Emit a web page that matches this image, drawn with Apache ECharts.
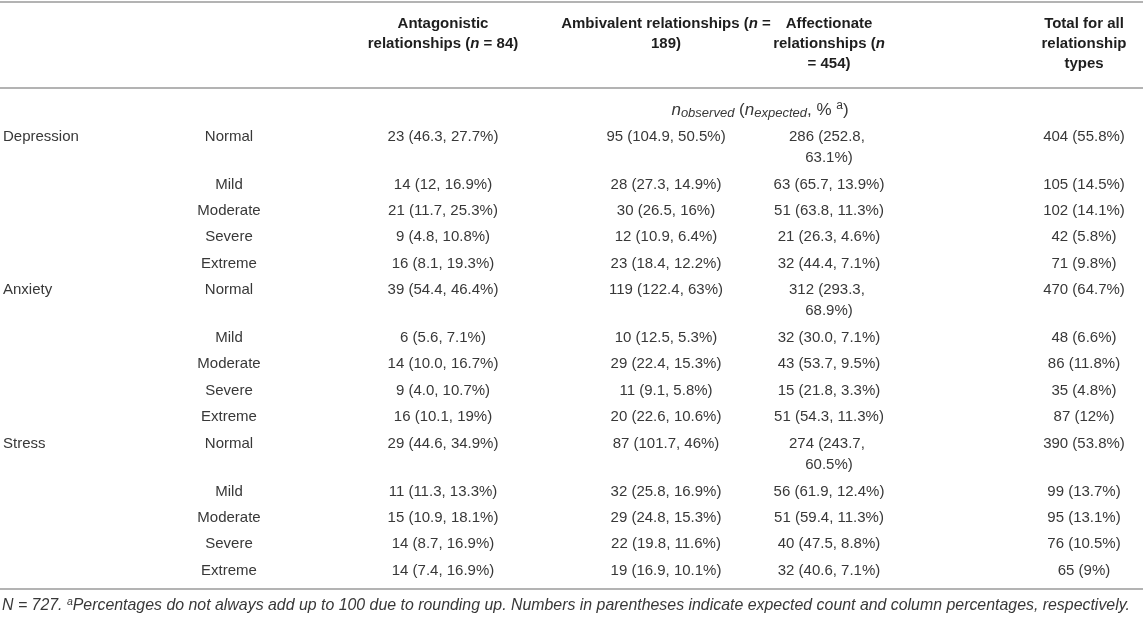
<!DOCTYPE html>
<html lang="en">
<head>
    <meta charset="UTF-8">
    <title>Relationship types by DASS level</title>
    <script src="https://cdn.jsdelivr.net/npm/echarts@6/dist/echarts.min.js"></script>
    <style>
        html, body { margin: 0; padding: 0; background: #fff; }
        #table-chart { width: 1143px; height: 618px; }
    </style>
</head>
<body>
<div id="table-chart"></div>

<script>
    // table content
    var groups = ['Depression', 'Anxiety', 'Stress'];
    var levels = ['Normal', 'Mild', 'Moderate', 'Severe', 'Extreme'];
    var headers = [
        'Antagonistic\nrelationships ({i|n} = 84)',
        'Ambivalent relationships ({i|n} =\n189)',
        'Affectionate\nrelationships ({i|n}\n= 454)',
        'Total for all\nrelationship\ntypes'
    ];
    var antagonistic = [
        '23 (46.3, 27.7%)', '14 (12, 16.9%)', '21 (11.7, 25.3%)', '9 (4.8, 10.8%)', '16 (8.1, 19.3%)',
        '39 (54.4, 46.4%)', '6 (5.6, 7.1%)', '14 (10.0, 16.7%)', '9 (4.0, 10.7%)', '16 (10.1, 19%)',
        '29 (44.6, 34.9%)', '11 (11.3, 13.3%)', '15 (10.9, 18.1%)', '14 (8.7, 16.9%)', '14 (7.4, 16.9%)'
    ];
    var ambivalent = [
        '95 (104.9, 50.5%)', '28 (27.3, 14.9%)', '30 (26.5, 16%)', '12 (10.9, 6.4%)', '23 (18.4, 12.2%)',
        '119 (122.4, 63%)', '10 (12.5, 5.3%)', '29 (22.4, 15.3%)', '11 (9.1, 5.8%)', '20 (22.6, 10.6%)',
        '87 (101.7, 46%)', '32 (25.8, 16.9%)', '29 (24.8, 15.3%)', '22 (19.8, 11.6%)', '19 (16.9, 10.1%)'
    ];
    var affectionate = [
        '286 (252.8, 63.1%)', '63 (65.7, 13.9%)', '51 (63.8, 11.3%)', '21 (26.3, 4.6%)', '32 (44.4, 7.1%)',
        '312 (293.3, 68.9%)', '32 (30.0, 7.1%)', '43 (53.7, 9.5%)', '15 (21.8, 3.3%)', '51 (54.3, 11.3%)',
        '274 (243.7, 60.5%)', '56 (61.9, 12.4%)', '51 (59.4, 11.3%)', '40 (47.5, 8.8%)', '32 (40.6, 7.1%)'
    ];
    var totals = [
        '404 (55.8%)', '105 (14.5%)', '102 (14.1%)', '42 (5.8%)', '71 (9.8%)',
        '470 (64.7%)', '48 (6.6%)', '86 (11.8%)', '35 (4.8%)', '87 (12%)',
        '390 (53.8%)', '99 (13.7%)', '95 (13.1%)', '76 (10.5%)', '65 (9%)'
    ];
    var unitLabel = '{i|n}{sub|observed} ({i|n}{sub|expected}, % {sup|a})';
    var footnote = 'N = 727. {sup|a}Percentages do not always add up to 100 due to rounding up. ' +
        'Numbers in parentheses indicate expected count and column percentages, respectively.';

    // layout
    var W = 1143, H = 618;
    var FONT = '"Liberation Sans", Arial, Helvetica, sans-serif';
    var bodySize = 15, lineH = 21;
    var colX = [3, 229, 443, 666, 829, 1084];
    var colAlign = ['left', 'center', 'center', 'center', 'center', 'center'];
    var colWrap = [200, 200, 200, 220, 120, 160];
    var firstRowY = 136.5, rowPitch = 26.4, extraLine = 21.5;

    var nRows = levels.length * groups.length;
    var groupCol = [], levelCol = [];
    for (var r = 0; r < nRows; r++) {
        groupCol.push(r % levels.length === 0 ? groups[r / levels.length] : '');
        levelCol.push(levels[r % levels.length]);
    }
    var columns = [groupCol, levelCol, antagonistic, ambivalent, affectionate, totals];

    // how many lines a row needs (a cell wraps when it is wider than its column)
    var ctx = document.createElement('canvas').getContext('2d');
    ctx.font = bodySize + 'px ' + FONT;
    function rowLines(r) {
        var n = 1;
        columns.forEach(function (col, c) {
            if (ctx.measureText(col[r]).width > colWrap[c]) n = 2;
        });
        return n;
    }
    var rowY = [];
    var y = firstRowY;
    for (var r = 0; r < nRows; r++) {
        rowY.push(y);
        y += rowPitch + (rowLines(r) - 1) * extraLine;
    }

    var cells = [];
    for (var r = 0; r < nRows; r++) {
        for (var c = 0; c < columns.length; c++) {
            if (columns[c][r]) cells.push([c, r]);
        }
    }

    function renderCell(params, api) {
        var c = api.value(0), r = api.value(1);
        var pt = api.coord([colX[c], rowY[r]]);
        return {
            type: 'text',
            x: pt[0],
            y: pt[1] - lineH / 2,
            style: {
                text: columns[c][r],
                fill: '#383838',
                fontSize: bodySize,
                fontFamily: FONT,
                align: colAlign[c],
                verticalAlign: 'top',
                width: colWrap[c],
                overflow: 'break',
                lineHeight: lineH
            }
        };
    }

    var graphics = [];
    [2, 88, 589].forEach(function (ly) {
        graphics.push({
            type: 'line',
            shape: {x1: 0, y1: ly, x2: W, y2: ly},
            style: {stroke: '#b3b3b3', lineWidth: 2}
        });
    });
    headers.forEach(function (h, i) {
        graphics.push({
            type: 'text',
            x: colX[i + 2],
            y: 14,
            style: {
                text: h,
                fill: '#1e1e1e',
                fontSize: 15,
                fontWeight: 'bold',
                fontFamily: FONT,
                align: 'center',
                verticalAlign: 'top',
                lineHeight: 20,
                rich: {
                    i: {fontSize: 15, fontWeight: 'bold', fontStyle: 'italic', fontFamily: FONT, lineHeight: 20, fill: '#1e1e1e'}
                }
            }
        });
    });
    graphics.push({
        type: 'text',
        x: 760,
        y: 110,
        style: {
            text: unitLabel,
            fill: '#383838',
            fontSize: 17,
            fontFamily: FONT,
            align: 'center',
            verticalAlign: 'middle',
            lineHeight: 20,
            rich: {
                i: {fontSize: 17, fontStyle: 'italic', fontFamily: FONT, fill: '#383838', lineHeight: 20},
                sub: {fontSize: 13, fontStyle: 'italic', fontFamily: FONT, fill: '#383838', lineHeight: 20, verticalAlign: 'bottom', padding: [5, 0, 0, 0]},
                sup: {fontSize: 12, fontFamily: FONT, fill: '#383838', lineHeight: 20, verticalAlign: 'top', padding: [0, 0, 5, 0]}
            }
        }
    });
    graphics.push({
        type: 'text',
        x: 2,
        y: 606,
        style: {
            text: footnote,
            fill: '#383838',
            fontSize: 15.9,
            fontStyle: 'italic',
            fontFamily: FONT,
            align: 'left',
            verticalAlign: 'middle',
            lineHeight: 18,
            rich: {
                sup: {fontSize: 10.5, fontStyle: 'italic', fontFamily: FONT, fill: '#383838', lineHeight: 18, verticalAlign: 'top', padding: [0, 0, 4, 0]}
            }
        }
    });

    var myChart = echarts.init(document.getElementById('table-chart'));
    var option = {
        animation: false,
        grid: {left: 0, right: 0, top: 0, bottom: 0},
        xAxis: {type: 'value', min: 0, max: W, show: false},
        yAxis: {type: 'value', min: 0, max: H, inverse: true, show: false},
        graphic: graphics,
        series: [{
            type: 'custom',
            renderItem: renderCell,
            data: cells,
            silent: true
        }]
    };
    myChart.setOption(option);
</script>
</body>
</html>
